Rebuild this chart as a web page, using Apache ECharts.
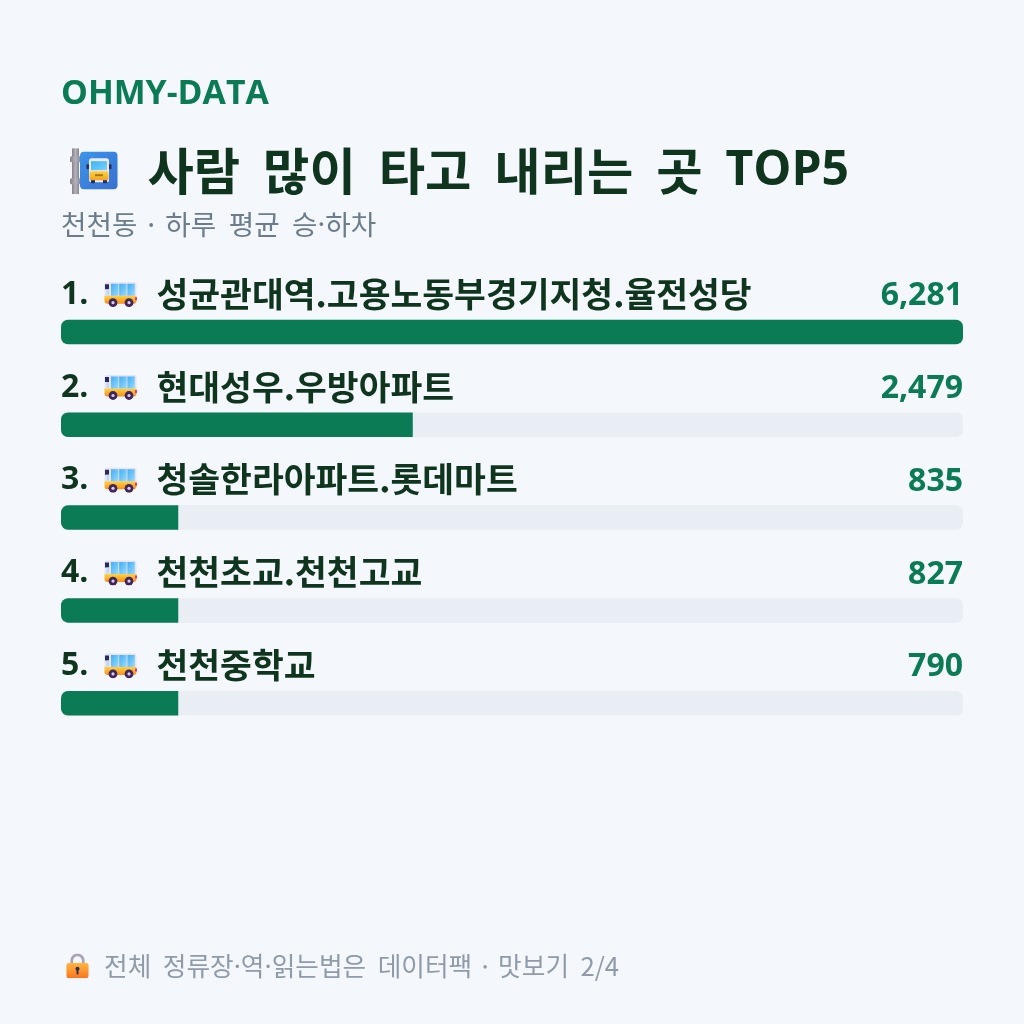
<!DOCTYPE html>
<html lang="ko">
<head>
<meta charset="utf-8">
<style>html,body{margin:0;padding:0;background:#f4f7fb}#chart{width:1024px;height:1024px}</style>
<script src="https://cdn.jsdelivr.net/npm/echarts@6/dist/echarts.min.js"></script>
</head>
<body>
<div id="chart"></div>
<script>
// Busiest stops in Cheoncheon-dong, average daily boardings and alightings
const brand = 'OHMY-DATA';
const heading = '사람  많이  타고  내리는  곳  ';
const headingTail = 'TOP5';
const subheading = '천천동 · 하루  평균  승·하차';
const footnote = '전체  정류장·역·읽는법은  데이터팩 · 맛보기  2/4';
const stops = ['성균관대역.고용노동부경기지청.율전성당', '현대성우.우방아파트', '청솔한라아파트.롯데마트', '천천초교.천천고교', '천천중학교'];
const riders = [6281, 2479, 835, 827, 790];

// Each bar shows its share of the busiest stop, in whole percent.
const top1 = Math.max(...riders);
const shares = riders.map(v => Math.round(v / top1 * 100));

const hangul = '"Noto Sans CJK KR"';
const face = '"Open Sans", ' + hangul;
const green = '#0a7b54';
const ink = '#10351f';

// Small pictograms, used as inline images inside the rich labels.
const svgUri = s => 'data:image/svg+xml;charset=utf-8,' + encodeURIComponent(s);

const busIcon = svgUri(`<svg xmlns="http://www.w3.org/2000/svg" width="33" height="27" viewBox="0 -2 33 27">
<defs><linearGradient id="b" x1="0" y1="0" x2="0" y2="1"><stop offset="0" stop-color="#ffd23f"/><stop offset="1" stop-color="#f78f1e"/></linearGradient>
<linearGradient id="w" x1="0" y1="0" x2="1" y2="1"><stop offset="0" stop-color="#3fb0f5"/><stop offset="1" stop-color="#9bd8fb"/></linearGradient></defs>
<rect x="0.5" y="0" width="32" height="16" rx="2" fill="#e6e2f8"/>
<path d="M0.5 13.5h32v5a3 3 0 0 1-3 3h-26a3 3 0 0 1-3-3z" fill="url(#b)"/>
<rect x="1" y="2" width="4" height="5" fill="#2b2a5c"/>
<rect x="2.5" y="7" width="2.5" height="6" fill="#bcd9f2"/>
<rect x="7" y="1.5" width="7.4" height="12" fill="url(#w)"/>
<rect x="15.2" y="1.5" width="7.4" height="12" fill="url(#w)"/>
<rect x="23.4" y="1.5" width="7.4" height="12" fill="url(#w)"/>
<rect x="31" y="15" width="2" height="3" fill="#e8328c"/>
<circle cx="9" cy="20.5" r="4.4" fill="#40265c"/><circle cx="9" cy="20.5" r="1.6" fill="#d9cfe8"/>
<circle cx="25" cy="20.5" r="4.4" fill="#40265c"/><circle cx="25" cy="20.5" r="1.6" fill="#d9cfe8"/>
</svg>`);

const signIcon = svgUri(`<svg xmlns="http://www.w3.org/2000/svg" width="48" height="46" viewBox="0 0 48 46">
<defs><linearGradient id="p" x1="0" y1="0" x2="1" y2="0"><stop offset="0" stop-color="#85818d"/><stop offset="0.5" stop-color="#b4b1bb"/><stop offset="1" stop-color="#8a8692"/></linearGradient>
<linearGradient id="s" x1="0" y1="0" x2="1" y2="1"><stop offset="0" stop-color="#3a95ea"/><stop offset="1" stop-color="#3a6fd0"/></linearGradient>
<linearGradient id="y" x1="0" y1="0" x2="0" y2="1"><stop offset="0" stop-color="#ffd23f"/><stop offset="1" stop-color="#f3a51e"/></linearGradient>
<linearGradient id="g" x1="0" y1="0" x2="1" y2="1"><stop offset="0" stop-color="#38b6f5"/><stop offset="1" stop-color="#7fd0fa"/></linearGradient></defs>
<rect x="2" y="0" width="7" height="46" fill="url(#p)"/>
<rect x="0" y="8" width="11" height="6" rx="1.5" fill="url(#p)"/>
<rect x="0" y="30" width="11" height="6" rx="1.5" fill="url(#p)"/>
<rect x="10" y="3.5" width="37.5" height="37.5" rx="4" fill="url(#s)"/>
<rect x="19" y="10" width="20" height="24" rx="2.5" fill="#eeeaf8"/>
<rect x="21" y="13" width="16" height="9" fill="url(#g)"/>
<rect x="19.5" y="23" width="19" height="9" rx="1.5" fill="url(#y)"/>
<rect x="25" y="26" width="8" height="2" fill="#a8741e"/>
<rect x="16.5" y="16" width="2.5" height="5" rx="1" fill="#2b2a5c"/><rect x="39" y="16" width="2.5" height="5" rx="1" fill="#2b2a5c"/>
<rect x="21" y="32" width="4" height="3" fill="#2b2a5c"/><rect x="33" y="32" width="4" height="3" fill="#2b2a5c"/>
</svg>`);

const lockIcon = svgUri(`<svg xmlns="http://www.w3.org/2000/svg" width="24" height="26" viewBox="0 0 24 26">
<defs><linearGradient id="l" x1="0" y1="0" x2="0" y2="1"><stop offset="0" stop-color="#ffb63d"/><stop offset="1" stop-color="#f7761e"/></linearGradient></defs>
<path d="M6 12V7.5a6 6 0 0 1 12 0V12" fill="none" stroke="#a9a3b5" stroke-width="2.8"/>
<rect x="0.5" y="10" width="23" height="16" rx="2.5" fill="url(#l)"/>
<circle cx="12" cy="16" r="2.1" fill="#2b2a5c"/><rect x="11" y="16" width="2" height="6" rx="0.8" fill="#2b2a5c"/>
</svg>`);

const gap = w => ({width: w, height: 1});
const rowStyles = {
  rank: {width: 43, padding: [2, 0, 0, 0], color: ink, fontSize: 32, fontWeight: 700, fontFamily: face},
  bus: {width: 33, height: 27, backgroundColor: {image: busIcon}},
  g: gap(19.5),
  name: {color: ink, fontSize: 34.6, fontWeight: 700, fontFamily: hangul}
};

const chart = echarts.init(document.getElementById('chart'), null, {renderer: 'canvas'});
chart.setOption({
  backgroundColor: '#f4f7fb',
  animation: false,
  title: [
    {text: brand, left: 61, top: 77, padding: 0, textStyle: {color: green, fontSize: 33.8, fontWeight: 700, fontFamily: face}},
    {
      text: '{a|}{sign|}{b|}{h|' + heading + '}{t|' + headingTail + '}',
      left: 61, top: 146, padding: 0,
      textStyle: {
        rich: {
          a: gap(9), b: gap(29.5),
          sign: {width: 48, height: 46, backgroundColor: {image: signIcon}},
          h: {color: ink, fontSize: 50.4, fontWeight: 700, fontFamily: hangul},
          t: {color: ink, fontSize: 48, fontWeight: 700, fontFamily: face}
        }
      }
    },
    {text: subheading, left: 61, top: 211, padding: 0, textStyle: {color: '#6b7c8c', fontSize: 27.7, fontWeight: 400, fontFamily: hangul}},
    {
      text: '{a|}{lock|}{b|}{f|' + footnote + '}',
      left: 61, top: 953, padding: 0,
      textStyle: {
        rich: {
          a: gap(5), b: gap(15),
          lock: {width: 23, height: 25, backgroundColor: {image: lockIcon}},
          f: {color: '#8f9ba8', fontSize: 25.7, fontWeight: 400, fontFamily: hangul}
        }
      }
    }
  ],
  grid: {left: 61, top: 285.6, width: 902, height: 464},
  xAxis: {type: 'value', min: 0, max: 100, show: false},
  yAxis: [
    {
      type: 'category', inverse: true, position: 'left',
      data: stops.map((s, i) => '{rank|' + (i + 1) + '.}{bus|}{g|}{name|' + s + '}'),
      axisLine: {show: false}, axisTick: {show: false},
      axisLabel: {inside: true, margin: 0, align: 'left', verticalAlign: 'bottom', padding: [0, 0, 21, 0], rich: rowStyles}
    },
    {
      type: 'category', inverse: true, position: 'right',
      data: riders.map(v => v.toLocaleString('en-US')),
      axisLine: {show: false}, axisTick: {show: false},
      axisLabel: {inside: true, margin: 0, align: 'right', verticalAlign: 'bottom', padding: [0, 0, 20, 0], color: green, fontSize: 32, fontWeight: 700, fontFamily: face}
    }
  ],
  series: [{
    type: 'bar', barWidth: 24.5, yAxisIndex: 0,
    showBackground: true,
    backgroundStyle: {color: '#e9edf4', borderRadius: 7},
    data: shares.map(v => ({value: v, itemStyle: {color: green, borderRadius: v === 100 ? 7 : [7, 0, 0, 7]}}))
  }]
});
</script>
</body>
</html>
